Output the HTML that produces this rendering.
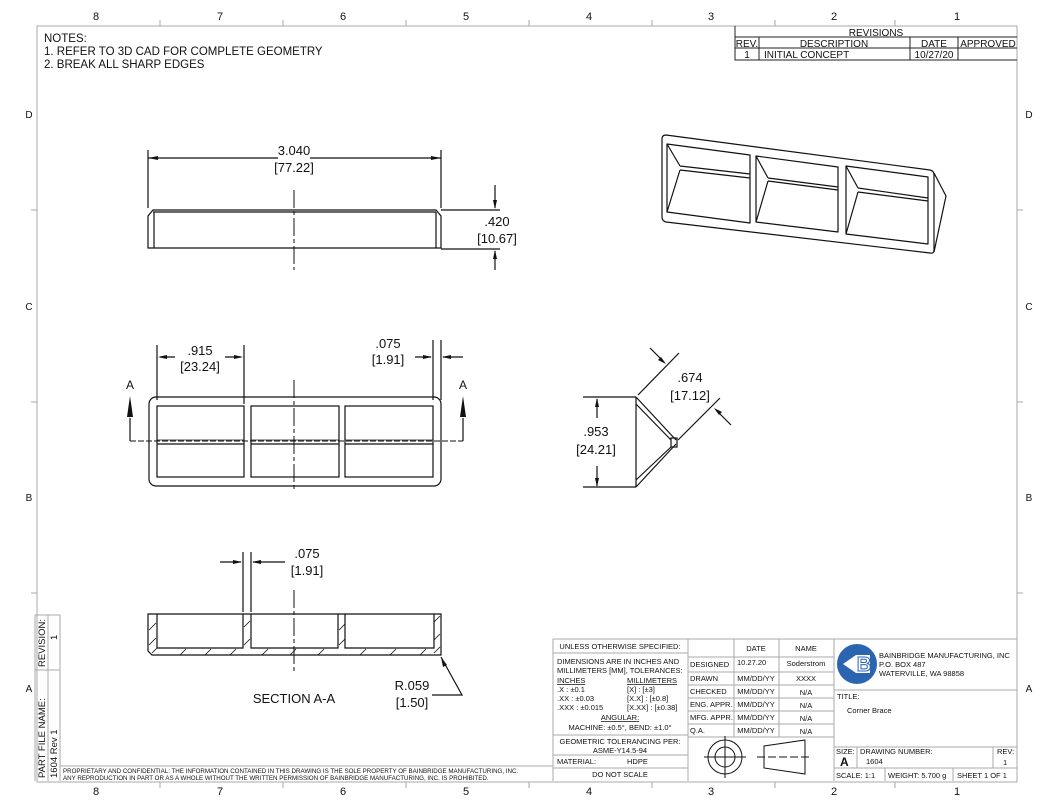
<!DOCTYPE html>
<html><head><meta charset="utf-8"><style>
html,body{margin:0;padding:0;background:#fff;}
svg{display:block;}
text{font-family:"Liberation Sans",sans-serif;fill:#111;}
</style></head><body>
<svg width="1056" height="808" viewBox="0 0 1056 808" xmlns="http://www.w3.org/2000/svg">
<rect width="1056" height="808" fill="#fff"/>
<g stroke="#aaa" stroke-width="1" fill="none">
<rect x="37" y="26" width="980" height="756"/>
<path d="M160 26v-6M283 26v-6M406 26v-6M529 26v-6M652 26v-6M775 26v-6M895 26v-6
M160 782v6M283 782v6M406 782v6M529 782v6M652 782v6M775 782v6M895 782v6
M37 210h-6M37 402h-6M37 593h-6M1017 210h6M1017 402h6M1017 593h6"/>
</g>
<g font-size="11" text-anchor="middle" fill="#222">
<text x="96" y="20">8</text><text x="220" y="20">7</text><text x="343" y="20">6</text><text x="466" y="20">5</text><text x="589" y="20">4</text><text x="711" y="20">3</text><text x="834" y="20">2</text><text x="957" y="20">1</text>
<text x="96" y="795">8</text><text x="220" y="795">7</text><text x="343" y="795">6</text><text x="466" y="795">5</text><text x="589" y="795">4</text><text x="711" y="795">3</text><text x="834" y="795">2</text><text x="957" y="795">1</text>
<text x="29" y="118" font-size="10">D</text><text x="29" y="310" font-size="10">C</text><text x="29" y="501" font-size="10">B</text><text x="29" y="692" font-size="10">A</text>
<text x="1029" y="118" font-size="10">D</text><text x="1029" y="310" font-size="10">C</text><text x="1029" y="501" font-size="10">B</text><text x="1029" y="692" font-size="10">A</text>
</g>
<g font-size="11.5">
<text x="44" y="42">NOTES:</text>
<text x="44" y="55">1.  REFER TO 3D CAD FOR COMPLETE GEOMETRY</text>
<text x="44" y="68">2.  BREAK ALL SHARP EDGES</text>
</g>
<g stroke="#222" stroke-width="1" fill="none">
<path d="M735 26V60H1017M735 37H1017M735 48H1017M759 37V60M910 37V60M958 37V60"/>
</g>
<g font-size="10" text-anchor="middle">
<text x="876" y="36">REVISIONS</text>
<text x="747" y="47">REV.</text><text x="834" y="47">DESCRIPTION</text><text x="934" y="47">DATE</text><text x="988" y="47">APPROVED</text>
<text x="747" y="58">1</text><text x="764" y="58" text-anchor="start">INITIAL CONCEPT</text><text x="934" y="58">10/27/20</text>
</g>
<g stroke="#111" stroke-width="1.2" fill="none">
<path d="M148 248V216L153 210H436L441 216V248Z"/>
<path d="M154 212V248M436 212V248M153 212H436"/>
<path d="M148 208V150M441 208V150M148 158H278M310 158H441"/>
<path d="M441 210H500M441 249H500M495 185V208M495 251V270"/>
</g>
<path d="M294 190V270" stroke="#111" stroke-dasharray="18,3,4,3" fill="none"/>
<g fill="#111"><path d="M148 158l10-2v4z"/><path d="M441 158l-10-2v4z"/><path d="M495 209l-2-9h4z"/><path d="M495 250l-2 9h4z"/></g>
<g font-size="13" text-anchor="middle">
<text x="294" y="155">3.040</text><text x="294" y="172">[77.22]</text>
<text x="497" y="226">.420</text><text x="497" y="243">[10.67]</text>
</g>
<g stroke="#111" stroke-width="1.2" fill="none">
<rect x="149" y="397" width="292" height="89" rx="7"/>
<rect x="157" y="406" width="87" height="71"/>
<rect x="251" y="406" width="88" height="71"/>
<rect x="345" y="406" width="88" height="71"/>
<path d="M157 444H244M251 444H339M345 444H433"/>
<path d="M157 400V345M244 404V345M433 400V340M441 400V340M160 357H175M225 357H241M415 357H431M443 357H463"/>
<path d="M130 441V418M463 441V418"/>
</g>
<path d="M157 440H244M251 440H339M345 440H433" stroke="#111" stroke-width="0.8" fill="none"/>
<path d="M130 441H463" stroke="#111" stroke-dasharray="6,2" fill="none"/>
<path d="M294 380V492" stroke="#111" stroke-dasharray="18,3,4,3" fill="none"/>
<g fill="#111"><path d="M158 357l9-2v4z"/><path d="M243 357l-9-2v4z"/><path d="M432 357l-9-2v4z"/><path d="M442 357l9-2v4z"/>
<path d="M130 396l-3 21h6z"/><path d="M463 396l-3 21h6z"/></g>
<g font-size="13" text-anchor="middle">
<text x="200" y="355">.915</text><text x="200" y="371">[23.24]</text>
<text x="388" y="348">.075</text><text x="388" y="364">[1.91]</text>
<text x="130" y="389" font-size="12">A</text><text x="463" y="389" font-size="12">A</text>
</g>
<g stroke="#111" stroke-width="1.2" fill="none">
<path d="M148 614V651L152 655H441V614Z"/>
<path d="M157 614V648H243V614M251 614V648H338V614M345 614V648H434V614"/>
<path d="M243 612V552M251 612V552M220 562H241M253 562H285"/>
<path d="M441 657L462 695H432"/>
</g>
<g stroke="#111" stroke-width="0.8"><path d="M149 630l7-7M149 645l7-7M152 653l5-5M180 655l6-6M205 655l6-6M230 655l6-6M244 627l6-6M244 645l6-6M262 655l6-6M290 655l6-6M318 655l6-6M339 630l6-6M339 645l6-6M360 655l6-6M390 655l6-6M420 655l6-6M434 622l6-6M434 640l6-6M434 653l6-6"/></g>
<path d="M294 590V672" stroke="#111" stroke-dasharray="18,3,4,3" fill="none"/>
<g fill="#111"><path d="M242 562l-9-2v4z"/><path d="M252 562l9-2v4z"/><path d="M441 657l2 10 4-2z"/></g>
<g font-size="13" text-anchor="middle">
<text x="307" y="558">.075</text><text x="307" y="575">[1.91]</text>
<text x="294" y="703">SECTION A-A</text>
<text x="412" y="690">R.059</text><text x="412" y="707">[1.50]</text>
</g>
<g stroke="#111" stroke-width="1.2" fill="none">
<path d="M636 397V487M636 397L676 440M636 487L676 444M636 404L671 440M636 480L671 447"/>
<rect x="671" y="438" width="6" height="9"/>
<path d="M583 397H636M583 487H636M597 399V418M597 466V486"/>
<path d="M638 395L679 353M678 440L720 398M650 348L664 362M716 410L731 425"/>
</g>
<g fill="#111"><path d="M666 364l-8-4 3-3z"/><path d="M714 408l8 4-3 3z"/><path d="M597 398l-2 9h4z"/><path d="M597 487l-2-9h4z"/></g>
<g font-size="13" text-anchor="middle">
<text x="596" y="436">.953</text><text x="596" y="454">[24.21]</text>
<text x="690" y="382">.674</text><text x="690" y="400">[17.12]</text>
</g>
<g stroke="#111" stroke-width="1.2" fill="none" stroke-linejoin="round">
<path d="M666 135L930 170Q934 171 934 175V250Q934 254 930 253L666 222Q662 221 662 217V139Q662 135 666 135Z"/>
<path d="M934 173L946 196L934 252"/>
<path d="M667 144L750 155V223L667 212Z M667 144L680 166M680 170L667 212M680 166L750 174M680 170L750 178"/>
<path d="M756 156L838 167V232L756 222Z M756 156L768 178M768 181L756 222M768 178L838 187M768 181L838 190"/>
<path d="M846 166L928 177V244L846 234Z M846 166L858 188M858 192L846 234M858 188L928 198M858 192L928 201"/>
</g>
<g stroke="#aaa" fill="none">
<path d="M35 615H60V781M35 615V781M48 615V781M35 670H60M60 766H553"/>
</g>
<g font-size="9.5">
<text transform="translate(45,667) rotate(-90)">REVISION:</text>
<text transform="translate(57,640) rotate(-90)">1</text>
<text transform="translate(45,778) rotate(-90)">PART FILE NAME:</text>
<text transform="translate(57,778) rotate(-90)">1604 Rev 1</text>
</g>
<g font-size="6.2"><text x="63" y="773">PROPRIETARY AND CONFIDENTIAL: THE INFORMATION CONTAINED IN THIS DRAWING IS THE SOLE PROPERTY OF BAINBRIDGE MANUFACTURING, INC.</text>
<text x="63" y="780">ANY REPRODUCTION IN PART OR AS A WHOLE WITHOUT THE WRITTEN PERMISSION OF BAINBRIDGE MANUFACTURING, INC. IS PROHIBITED.</text></g>
<g stroke="#aaa" fill="none">
<path d="M553 639H1017V781M553 639V781M688 639V781M834 639V781M553 653H688M553 735H688M553 755H688M553 768H688
M688 657H834M688 672H834M688 685H834M688 698H834M688 711H834M688 724H834M688 737H834M734 639V737M779 639V737
M834 690H1017M834 747H1017M834 768H1017M857 747V768M993 747V768M885 768V781M953 768V781"/>
</g>
<g font-size="7.5">
<text x="620" y="649" text-anchor="middle">UNLESS OTHERWISE SPECIFIED:</text>
<text x="557" y="664">DIMENSIONS ARE IN INCHES AND</text>
<text x="557" y="673">MILLIMETERS [MM], TOLERANCES:</text>
<text x="557" y="683" text-decoration="underline">INCHES</text><text x="627" y="683" text-decoration="underline">MILLIMETERS</text>
<text x="557" y="692">.X :      ±0.1</text><text x="627" y="692">[X]      : [±3]</text>
<text x="557" y="701">.XX :     ±0.03</text><text x="627" y="701">[X.X]   : [±0.8]</text>
<text x="557" y="710">.XXX :  ±0.015</text><text x="627" y="710">[X.XX] : [±0.38]</text>
<text x="620" y="720" text-anchor="middle" text-decoration="underline">ANGULAR:</text>
<text x="620" y="730" text-anchor="middle">MACHINE: ±0.5°, BEND: ±1.0°</text>
<text x="620" y="744" text-anchor="middle">GEOMETRIC TOLERANCING PER:</text>
<text x="620" y="753" text-anchor="middle">ASME-Y14.5-94</text>
<text x="557" y="764">MATERIAL:</text><text x="627" y="764">HDPE</text>
<text x="620" y="777" text-anchor="middle">DO NOT SCALE</text>
<text x="756" y="651" text-anchor="middle">DATE</text><text x="806" y="651" text-anchor="middle">NAME</text>
<text x="690" y="667">DESIGNED</text><text x="737" y="665">10.27.20</text><text x="806" y="666" text-anchor="middle">Soderstrom</text>
<text x="690" y="681">DRAWN</text><text x="756" y="681" text-anchor="middle">MM/DD/YY</text><text x="806" y="681" text-anchor="middle">XXXX</text>
<text x="690" y="694">CHECKED</text><text x="756" y="694" text-anchor="middle">MM/DD/YY</text><text x="806" y="695" text-anchor="middle">N/A</text>
<text x="690" y="707">ENG. APPR.</text><text x="756" y="707" text-anchor="middle">MM/DD/YY</text><text x="806" y="708" text-anchor="middle">N/A</text>
<text x="690" y="720">MFG. APPR.</text><text x="756" y="720" text-anchor="middle">MM/DD/YY</text><text x="806" y="721" text-anchor="middle">N/A</text>
<text x="690" y="733">Q.A.</text><text x="756" y="733" text-anchor="middle">MM/DD/YY</text><text x="806" y="734" text-anchor="middle">N/A</text>
<text x="879" y="658">BAINBRIDGE MANUFACTURING, INC</text>
<text x="879" y="667">P.O. BOX 487</text>
<text x="879" y="676">WATERVILLE, WA 98858</text>
<text x="837" y="699">TITLE:</text>
<text x="847" y="713">Corner Brace</text>
<text x="836" y="754">SIZE:</text><text x="860" y="754">DRAWING NUMBER:</text><text x="997" y="754">REV:</text>
<text x="866" y="764">1604</text><text x="1003" y="765">1</text>
<text x="836" y="778">SCALE: 1:1</text><text x="888" y="778">WEIGHT: 5.700 g</text><text x="957" y="778">SHEET 1 OF 1</text>
</g>
<text x="840" y="766" font-size="12" font-weight="bold">A</text>
<g stroke="#111" fill="none" stroke-width="1">
<circle cx="725" cy="757" r="17"/><circle cx="725" cy="757" r="10"/>
<path d="M704 757H746M725 736V778"/>
<path d="M764 746L805 740V774L764 768Z"/>
<path d="M757 757H810" stroke-dasharray="8,3"/>
</g>
<circle cx="857" cy="664" r="20" fill="#2b64b0"/>
<path d="M843 664L856 655H870V673H856Z" fill="#fff"/>
<text x="864" y="671" font-size="20" font-weight="bold" text-anchor="middle" style="fill:#fff;stroke:#2b64b0;stroke-width:1">B</text>
</svg>
</body></html>
